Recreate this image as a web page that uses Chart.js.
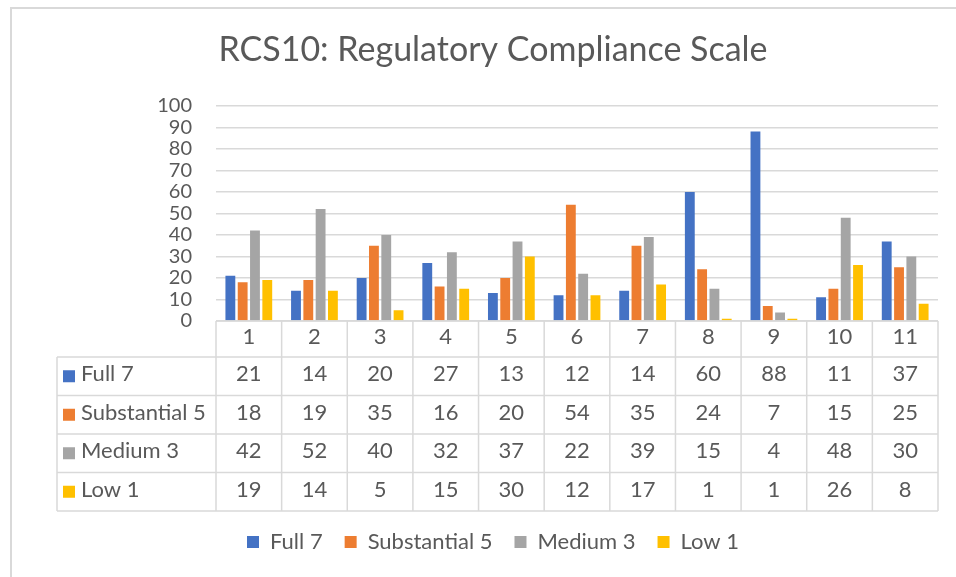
<!DOCTYPE html>
<html>
<head>
<meta charset="utf-8">
<script src="https://cdn.jsdelivr.net/npm/chart.js@4.4.0/dist/chart.umd.min.js"></script>
<style>
  html, body { margin: 0; padding: 0; background: #fff; }
  #wrap { width: 956px; height: 577px; position: relative; }
</style>
</head>
<body>
<div id="wrap"><canvas id="rcsChart"></canvas></div>
<script>
// chart data
const categories = ['1', '2', '3', '4', '5', '6', '7', '8', '9', '10', '11'];
const full7 = [21, 14, 20, 27, 13, 12, 14, 60, 88, 11, 37];
const substantial5 = [18, 19, 35, 16, 20, 54, 35, 24, 7, 15, 25];
const medium3 = [42, 52, 40, 32, 37, 22, 39, 15, 4, 48, 30];
const low1 = [19, 14, 5, 15, 30, 12, 17, 1, 1, 26, 8];
const seriesNames = ['Full 7', 'Substantial 5', 'Medium 3', 'Low 1'];
const seriesColors = ['#4472C4', '#ED7D31', '#A5A5A5', '#FFC000'];

const textColor = '#595959';
const lineColor = '#d9d9d9';
const fontFamily = 'Lato, "Open Sans", sans-serif';

// light frame round the chart (left and top edges are visible in the shot)
const frame = {
    id: 'frame',
    beforeDraw(chart) {
        const ctx = chart.ctx;
        ctx.save();
        ctx.strokeStyle = lineColor;
        ctx.lineWidth = 2;
        ctx.beginPath();
        ctx.moveTo(11, chart.height);
        ctx.lineTo(11, 8);
        ctx.lineTo(chart.width, 8);
        ctx.stroke();
        ctx.restore();
    }
};

// centre title and legend over the plot rather than the whole canvas
const recentre = {
    id: 'recentre',
    afterLayout(chart) {
        chart.titleBlock.left = 30;
        chart.titleBlock.right = chart.width;
        chart.legend.left = 30;
        chart.legend.right = chart.width;
    }
};

// Excel style data table under the x axis
const dataTable = {
    id: 'dataTable',
    afterDraw(chart) {
        const ctx = chart.ctx;
        const xScale = chart.scales.x;
        const area = chart.chartArea;
        const n = categories.length;
        const cw = (area.right - area.left) / n;
        const top = area.bottom;
        const headH = 36;
        const rowH = 38.5;
        const tableLeft = 57;
        const rows = chart.data.datasets.length;
        const bottom = top + headH + rowH * rows;

        ctx.save();
        ctx.strokeStyle = lineColor;
        ctx.lineWidth = 1.5;
        ctx.beginPath();
        ctx.moveTo(area.left, top);
        ctx.lineTo(area.right, top);
        for (let r = 0; r <= rows; r++) {
            const y = top + headH + r * rowH;
            ctx.moveTo(tableLeft, y);
            ctx.lineTo(area.right, y);
        }
        for (let i = 0; i <= n; i++) {
            const x = area.left + i * cw;
            ctx.moveTo(x, top);
            ctx.lineTo(x, bottom);
        }
        ctx.moveTo(tableLeft, top + headH);
        ctx.lineTo(tableLeft, bottom);
        ctx.stroke();

        ctx.font = '22px ' + fontFamily;
        ctx.textBaseline = 'middle';
        ctx.fillStyle = textColor;
        ctx.textAlign = 'center';
        categories.forEach((c, i) => {
            ctx.fillText(c, xScale.getPixelForValue(i), top + headH / 2 - 2);
        });

        chart.data.datasets.forEach((ds, r) => {
            const cy = top + headH + r * rowH + rowH / 2 - 2;
            ctx.fillStyle = textColor;
            ctx.textAlign = 'center';
            ds.data.forEach((v, i) => {
                ctx.fillText(String(v), xScale.getPixelForValue(i), cy);
            });
            ctx.fillStyle = ds.backgroundColor;
            ctx.fillRect(63, cy - 4, 12, 12);
            ctx.fillStyle = textColor;
            ctx.textAlign = 'left';
            ctx.fillText(ds.label, 81, cy);
        });
        ctx.restore();
    }
};

const seriesData = [full7, substantial5, medium3, low1];

new Chart(document.getElementById('rcsChart'), {
    type: 'bar',
    data: {
        labels: categories,
        datasets: seriesNames.map((name, i) => ({
            label: name,
            data: seriesData[i],
            backgroundColor: seriesColors[i],
            borderWidth: 0,
            categoryPercentage: 0.75,
            barPercentage: 0.8
        }))
    },
    options: {
        responsive: true,
        maintainAspectRatio: false,
        animation: false,
        layout: {
            padding: { left: 0, right: 18, top: 0, bottom: 14 }
        },
        plugins: {
            title: {
                display: true,
                text: 'RCS10: Regulatory Compliance Scale',
                color: textColor,
                font: { family: fontFamily, size: 34, weight: 'normal' },
                padding: { top: 30, bottom: 35 }
            },
            legend: {
                position: 'bottom',
                labels: {
                    color: textColor,
                    font: { family: fontFamily, size: 22 },
                    boxWidth: 12,
                    boxHeight: 12,
                    padding: 22
                }
            },
            tooltip: { enabled: false }
        },
        scales: {
            x: {
                grid: { display: false },
                border: { display: false },
                ticks: { display: false },
                afterFit(scale) { scale.height = 188; }
            },
            y: {
                min: 0,
                max: 100,
                grid: { color: lineColor, lineWidth: 1.5, drawTicks: false },
                border: { display: false },
                ticks: {
                    stepSize: 10,
                    autoSkip: false,
                    padding: 24,
                    color: textColor,
                    font: { family: fontFamily, size: 20 }
                },
                afterFit(scale) { scale.width = 216; }
            }
        }
    },
    plugins: [frame, recentre, dataTable]
});
</script>
</body>
</html>
